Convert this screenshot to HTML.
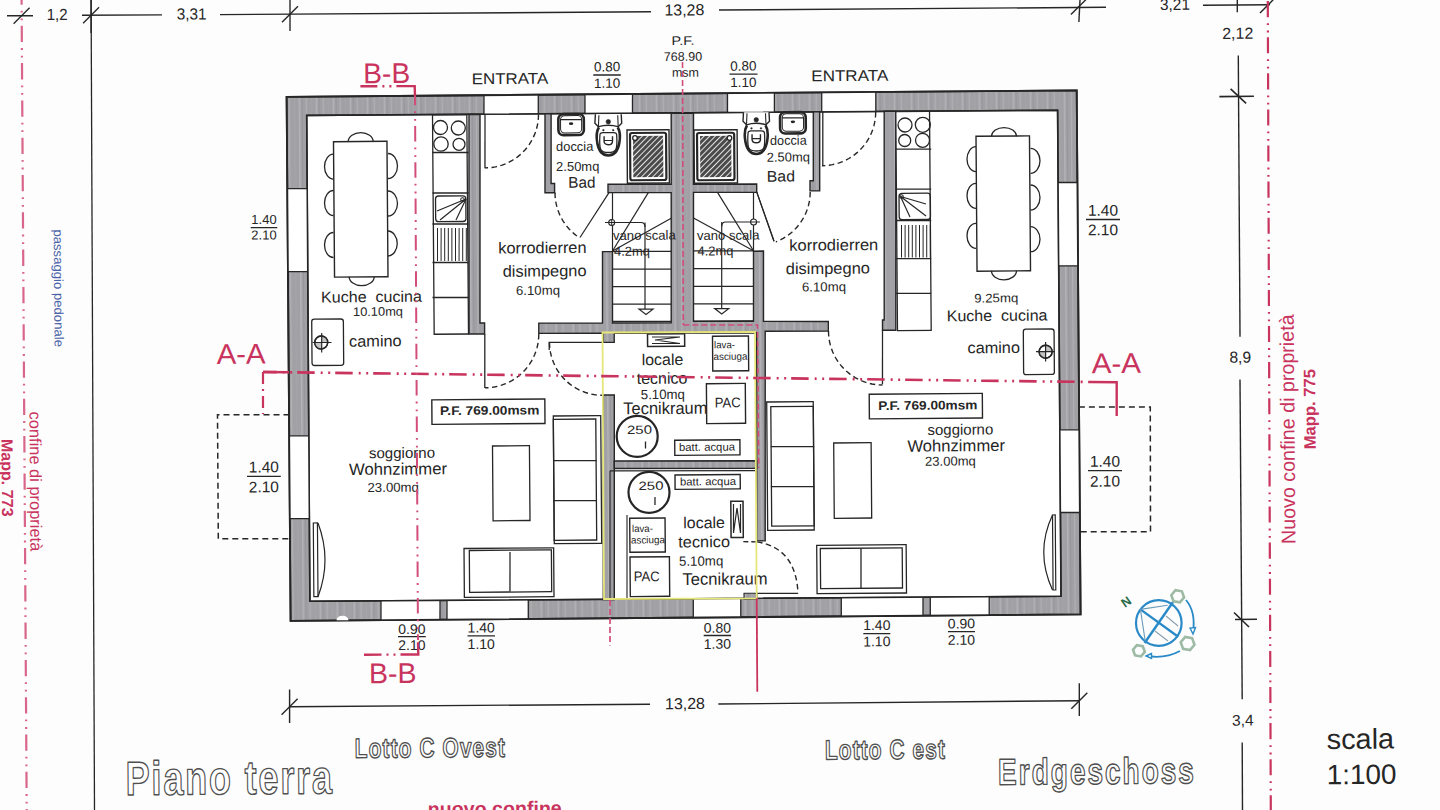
<!DOCTYPE html>
<html><head><meta charset="utf-8"><title>Piano terra</title>
<style>
html,body{margin:0;padding:0;background:#fdfdfd;}
body{width:1440px;height:810px;overflow:hidden;}
svg{display:block;font-family:"Liberation Sans",sans-serif;}
</style></head><body>
<svg width="1440" height="810" viewBox="0 0 1440 810">
<defs>
<pattern id="wall" patternUnits="userSpaceOnUse" width="17" height="60">
<rect width="17" height="60" fill="#a0a0a5"/>
<rect x="2" width="1.2" height="60" fill="#b0b0b5"/>
<rect x="7.5" width="0.8" height="60" fill="#a6a6ab"/>
<rect x="12" width="1.5" height="60" fill="#b3b3b8"/>
<rect x="15" width="0.7" height="60" fill="#929298"/>
</pattern>
<pattern id="hatch" patternUnits="userSpaceOnUse" width="4" height="4" patternTransform="rotate(45)">
<rect width="4" height="4" fill="#e4e4e4"/>
<rect width="3.0" height="4" fill="#4a4a4a"/>
</pattern>
</defs>
<rect width="1440" height="810" fill="#fdfdfd"/>
<g transform="rotate(-0.44 720.0 405.0)">
<polygon points="288.98,93.48 1079.11,93.15 1078.98,617.16 288.95,617.6" fill="url(#wall)" stroke="#262626" stroke-width="1.8" />
<polygon points="308.94,112.23 1059.85,112.8 1059.52,598.91 308.4,598.14" fill="#ffffff" stroke="#262626" stroke-width="1.6" />
<polygon points="486.39,93.4 540.69,93.37 540.54,112.41 486.24,112.37" fill="#ffffff" stroke="none" stroke-width="0" />
<line x1="486.39" y1="93.4" x2="486.24" y2="112.37" stroke="#262626" stroke-width="1.3" />
<line x1="540.69" y1="93.37" x2="540.54" y2="112.41" stroke="#262626" stroke-width="1.3" />
<polygon points="587.39,93.36 634.89,93.34 634.74,112.48 587.24,112.44" fill="#ffffff" stroke="none" stroke-width="0" />
<line x1="587.39" y1="93.36" x2="587.24" y2="112.44" stroke="#262626" stroke-width="1.3" />
<line x1="634.89" y1="93.34" x2="634.74" y2="112.48" stroke="#262626" stroke-width="1.3" />
<polygon points="729.89,93.3 776.8,93.28 776.65,112.59 729.75,112.55" fill="#ffffff" stroke="none" stroke-width="0" />
<line x1="729.89" y1="93.3" x2="729.75" y2="112.55" stroke="#262626" stroke-width="1.3" />
<line x1="776.8" y1="93.28" x2="776.65" y2="112.59" stroke="#262626" stroke-width="1.3" />
<polygon points="824.1,93.26 878.2,93.23 878.05,112.66 823.95,112.62" fill="#ffffff" stroke="none" stroke-width="0" />
<line x1="824.1" y1="93.26" x2="823.95" y2="112.62" stroke="#262626" stroke-width="1.3" />
<line x1="878.2" y1="93.23" x2="878.05" y2="112.66" stroke="#262626" stroke-width="1.3" />
<polygon points="379.36,617.55 438.36,617.51 438.51,598.28 379.51,598.22" fill="#ffffff" stroke="none" stroke-width="0" />
<line x1="379.36" y1="617.55" x2="379.51" y2="598.22" stroke="#262626" stroke-width="1.3" />
<line x1="438.36" y1="617.51" x2="438.51" y2="598.28" stroke="#262626" stroke-width="1.3" />
<polygon points="445.36,617.51 526.66,617.47 526.81,598.37 445.51,598.29" fill="#ffffff" stroke="none" stroke-width="0" />
<line x1="445.36" y1="617.51" x2="445.51" y2="598.29" stroke="#262626" stroke-width="1.3" />
<line x1="526.66" y1="617.47" x2="526.81" y2="598.37" stroke="#262626" stroke-width="1.3" />
<polygon points="691.67,617.38 739.17,617.35 739.31,598.59 691.81,598.54" fill="#ffffff" stroke="none" stroke-width="0" />
<line x1="691.67" y1="617.38" x2="691.81" y2="598.54" stroke="#262626" stroke-width="1.3" />
<line x1="739.17" y1="617.35" x2="739.31" y2="598.59" stroke="#262626" stroke-width="1.3" />
<polygon points="839.67,617.29 921.38,617.25 921.52,598.77 839.82,598.69" fill="#ffffff" stroke="none" stroke-width="0" />
<line x1="839.67" y1="617.29" x2="839.82" y2="598.69" stroke="#262626" stroke-width="1.3" />
<line x1="921.38" y1="617.25" x2="921.52" y2="598.77" stroke="#262626" stroke-width="1.3" />
<polygon points="928.68,617.25 987.58,617.21 987.72,598.84 928.82,598.78" fill="#ffffff" stroke="none" stroke-width="0" />
<line x1="928.68" y1="617.25" x2="928.82" y2="598.78" stroke="#262626" stroke-width="1.3" />
<line x1="987.58" y1="617.21" x2="987.72" y2="598.84" stroke="#262626" stroke-width="1.3" />
<polygon points="288.98,185.38 308.86,185.54 308.77,268.54 288.97,268.39" fill="#ffffff" stroke="none" stroke-width="0" />
<line x1="288.98" y1="185.38" x2="308.86" y2="185.54" stroke="#262626" stroke-width="1.3" />
<line x1="288.97" y1="268.39" x2="308.77" y2="268.54" stroke="#262626" stroke-width="1.3" />
<polygon points="288.96,432.49 308.59,432.64 308.49,515.54 288.96,515.39" fill="#ffffff" stroke="none" stroke-width="0" />
<line x1="288.96" y1="432.49" x2="308.59" y2="432.64" stroke="#262626" stroke-width="1.3" />
<line x1="288.96" y1="515.39" x2="308.49" y2="515.54" stroke="#262626" stroke-width="1.3" />
<polygon points="1059.8,185.1 1079.08,185.25 1079.06,268.55 1059.75,268.41" fill="#ffffff" stroke="none" stroke-width="0" />
<line x1="1059.8" y1="185.1" x2="1079.08" y2="185.25" stroke="#262626" stroke-width="1.3" />
<line x1="1059.75" y1="268.41" x2="1079.06" y2="268.55" stroke="#262626" stroke-width="1.3" />
<polygon points="1059.63,432.41 1079.03,432.56 1079.01,515.26 1059.58,515.11" fill="#ffffff" stroke="none" stroke-width="0" />
<line x1="1059.63" y1="432.41" x2="1079.03" y2="432.56" stroke="#262626" stroke-width="1.3" />
<line x1="1059.58" y1="515.11" x2="1079.01" y2="515.26" stroke="#262626" stroke-width="1.3" />
<polygon points="288.98,93.48 1079.11,93.15 1078.98,617.16 288.95,617.6" fill="none" stroke="#262626" stroke-width="1.8" />
<polygon points="308.94,112.23 1059.85,112.8 1059.52,598.91 308.4,598.14" fill="none" stroke="#262626" stroke-width="1.5" />
<path d="M 334.86 617.35 A 6 4.5 0 0 1 346.86 617.34 Z" fill="#ffffff" stroke="none" stroke-width="0" />
<polygon points="471.24,112.58 482.24,112.67 480.64,321.16 485.24,321.19 485.15,332.19 469.55,332.07" fill="url(#wall)" stroke="#262626" stroke-width="1.4" />
<polygon points="547.24,112.46 553.34,112.51 552.81,182.21 556.31,182.24 556.23,191.54 546.63,191.46" fill="url(#wall)" stroke="#262626" stroke-width="1.4" />
<polygon points="609.7,183.45 672.9,183.93 673.44,112.83 695.74,112.81 695.2,184 758.4,184.29 758.33,192.69 695.13,192.2 694.14,321.1 754.14,321.56 754.68,251.46 764.68,251.34 764.14,321.64 828.94,322.33 828.87,331.83 765.77,331.55 764.16,541.14 755.66,541.18 757.25,333.08 614.75,332.39 614.68,341.49 603.68,341.5 603.75,332.41 539.36,332.01 539.43,321.71 603.13,322.2 603.68,250.7 613.68,250.78 613.13,322.18 671.83,322.43 672.83,192.23 609.63,191.75" fill="url(#wall)" stroke="#262626" stroke-width="1.4" />
<polygon points="603.38,394.1 614.38,394.19 612.81,598.68 601.81,598.6" fill="url(#wall)" stroke="#262626" stroke-width="1.4" />
<polygon points="613.87,460.19 756.27,461.08 756.21,468.58 613.82,467.69" fill="url(#wall)" stroke="#262626" stroke-width="1.4" />
<line x1="609.5" y1="469.95" x2="756.2" y2="470.88" stroke="#262626" stroke-width="1.2" />
<line x1="609.5" y1="469.95" x2="608.51" y2="598.15" stroke="#262626" stroke-width="1.1" />
<line x1="626.16" y1="514.28" x2="625.52" y2="597.28" stroke="#262626" stroke-width="1.1" />
<polygon points="815.55,112.53 821.95,112.57 821.34,191.67 811.64,191.6 811.72,181.5 815.02,181.52" fill="url(#wall)" stroke="#262626" stroke-width="1.4" />
<polygon points="886.45,112.57 898.05,112.66 896.37,331.65 883.07,331.55 883.15,321.25 884.85,321.26" fill="url(#wall)" stroke="#262626" stroke-width="1.4" />
<rect x="742.55" y="593.48" width="12.96" height="5.8" fill="url(#wall)" stroke="#262626" stroke-width="1.1" />
<line x1="614.13" y1="191.78" x2="613.68" y2="250.78" stroke="#262626" stroke-width="1.2" />
<line x1="613.68" y1="250.48" x2="672.38" y2="250.93" stroke="#262626" stroke-width="1.3" />
<line x1="613.55" y1="268.38" x2="672.24" y2="268.83" stroke="#262626" stroke-width="1.3" />
<line x1="613.41" y1="285.88" x2="672.11" y2="286.33" stroke="#262626" stroke-width="1.3" />
<line x1="613.28" y1="303.38" x2="671.98" y2="303.83" stroke="#262626" stroke-width="1.3" />
<line x1="613.14" y1="320.68" x2="671.84" y2="320.93" stroke="#262626" stroke-width="1.3" />
<line x1="646.4" y1="221.93" x2="645.74" y2="308.43" stroke="#262626" stroke-width="1.2" />
<path d="M 606.4 221.62 L 642.4 221.9 Q 646.4 221.93 646.37 226.43" fill="none" stroke="#262626" stroke-width="1.2" />
<circle cx="613.1" cy="221.67" r="3" fill="#fff" stroke="#262626" stroke-width="1.1" />
<line x1="609.9" y1="221.65" x2="615.9" y2="221.7" stroke="#262626" stroke-width="1" />
<line x1="613.13" y1="218.67" x2="613.08" y2="224.67" stroke="#262626" stroke-width="1" />
<polygon points="639.74,308.58 653.74,308.69 646.7,313.93" fill="#fff" stroke="#262626" stroke-width="1.2" />
<line x1="613.69" y1="250.18" x2="649.93" y2="192.06" stroke="#262626" stroke-width="1.2" />
<line x1="613.69" y1="250.18" x2="672.64" y2="217.93" stroke="#262626" stroke-width="1.2" />
<line x1="581.29" y1="236.43" x2="610.63" y2="191.75" stroke="#262626" stroke-width="1.2" />
<line x1="755.13" y1="192.66" x2="754.68" y2="251.46" stroke="#262626" stroke-width="1.2" />
<line x1="694.68" y1="250.6" x2="754.68" y2="251.06" stroke="#262626" stroke-width="1.3" />
<line x1="694.55" y1="268.4" x2="754.55" y2="268.86" stroke="#262626" stroke-width="1.3" />
<line x1="694.41" y1="286.1" x2="754.41" y2="286.56" stroke="#262626" stroke-width="1.3" />
<line x1="694.28" y1="303.6" x2="754.28" y2="304.06" stroke="#262626" stroke-width="1.3" />
<line x1="694.14" y1="321.1" x2="754.14" y2="321.26" stroke="#262626" stroke-width="1.3" />
<line x1="723.11" y1="222.02" x2="722.44" y2="309.02" stroke="#262626" stroke-width="1.2" />
<path d="M 761.4 222.31 L 727.11 222.05 Q 723.11 222.02 723.07 226.52" fill="none" stroke="#262626" stroke-width="1.2" />
<circle cx="755" cy="222.26" r="3" fill="#fff" stroke="#262626" stroke-width="1.1" />
<line x1="751.9" y1="222.24" x2="757.9" y2="222.29" stroke="#262626" stroke-width="1" />
<polygon points="715.44,308.56 729.44,308.67 722.4,314.02" fill="#fff" stroke="#262626" stroke-width="1.2" />
<line x1="754.68" y1="251.06" x2="719.13" y2="192.39" stroke="#262626" stroke-width="1.2" />
<line x1="754.68" y1="251.06" x2="694.94" y2="217.8" stroke="#262626" stroke-width="1.2" />
<line x1="775.26" y1="241.72" x2="758.34" y2="192.19" stroke="#262626" stroke-width="1.2" />
<line x1="775.26" y1="241.72" x2="758.34" y2="192.19" stroke="#262626" stroke-width="1.2" />
<polyline points="540.74,113.01 540.6,116.51 540.23,119.99 539.63,123.44 538.81,126.85 537.77,130.19 536.51,133.46 535.04,136.63 533.36,139.71 531.49,142.67 529.43,145.5 527.19,148.19 524.78,150.72 522.2,153.1 519.48,155.3 516.62,157.31 513.63,159.14 510.53,160.77 507.33,162.19 504.05,163.4 500.69,164.39 497.27,165.15 493.81,165.7 490.33,166.01 486.83,166.1" fill="none" stroke="#262626" stroke-width="1.4" stroke-dasharray="5.5 3.5"/>
<line x1="487.24" y1="112.8" x2="486.82" y2="166.5" stroke="#262626" stroke-width="1.3" />
<polyline points="556.64,191.34 556.67,193.58 556.79,195.81 557,198.04 557.31,200.26 557.71,202.46 558.2,204.64 558.77,206.81 559.44,208.94 560.2,211.05 561.04,213.12 561.97,215.16 562.98,217.16 564.08,219.11 565.25,221.01 566.5,222.87 567.83,224.67 569.23,226.42 570.7,228.1 572.24,229.73 573.85,231.29 575.52,232.78 577.25,234.2 579.04,235.54 580.88,236.81" fill="none" stroke="#262626" stroke-width="1.4" stroke-dasharray="5.5 3.5"/>
<polyline points="539.35,332.61 539.21,336.13 538.84,339.63 538.24,343.1 537.41,346.52 536.36,349.88 535.1,353.17 533.62,356.36 531.94,359.45 530.05,362.43 527.98,365.28 525.73,367.98 523.3,370.53 520.71,372.92 517.97,375.13 515.1,377.16 512.09,378.99 508.98,380.63 505.76,382.06 502.45,383.27 499.08,384.27 495.64,385.04 492.16,385.59 488.66,385.91 485.14,386" fill="none" stroke="#262626" stroke-width="1.4" stroke-dasharray="5.5 3.5"/>
<line x1="485.35" y1="332.2" x2="484.94" y2="386.19" stroke="#262626" stroke-width="1.3" />
<polyline points="549.99,340.99 550.07,344.46 550.39,347.91 550.93,351.34 551.69,354.72 552.67,358.05 553.87,361.31 555.27,364.48 556.88,367.55 558.69,370.51 560.69,373.34 562.87,376.04 565.22,378.59 567.73,380.98 570.4,383.2 573.2,385.24 576.13,387.09 579.18,388.75 582.33,390.21 585.56,391.45 588.87,392.49 592.25,393.3 595.66,393.89 599.11,394.26 602.58,394.4" fill="none" stroke="#262626" stroke-width="1.4" stroke-dasharray="5.5 3.5"/>
<polyline points="549.63,348.69 549.69,340.99 603.68,341.4" fill="none" stroke="#262626" stroke-width="1.3" />
<polyline points="811.83,192.6 811.75,195.28 811.52,197.96 811.17,200.62 810.68,203.26 810.06,205.87 809.31,208.44 808.43,210.98 807.42,213.47 806.29,215.9 805.04,218.28 803.67,220.59 802.19,222.83 800.6,224.99 798.9,227.07 797.1,229.06 795.2,230.96 793.21,232.76 791.13,234.46 788.97,236.05 786.73,237.53 784.42,238.9 782.05,240.15 779.61,241.28 777.12,242.28" fill="none" stroke="#262626" stroke-width="1.4" stroke-dasharray="5.5 3.5"/>
<polyline points="877.95,113.2 877.8,116.72 877.43,120.21 876.83,123.67 876.01,127.09 874.96,130.44 873.7,133.72 872.23,136.91 870.55,140 868.67,142.97 866.6,145.81 864.35,148.51 861.93,151.05 859.34,153.44 856.61,155.64 853.74,157.67 850.74,159.5 847.63,161.13 844.42,162.56 841.12,163.77 837.75,164.77 834.32,165.54 830.85,166.08 827.35,166.4 823.83,166.49" fill="none" stroke="#262626" stroke-width="1.4" stroke-dasharray="5.5 3.5"/>
<line x1="825.05" y1="112.6" x2="824.64" y2="166.3" stroke="#262626" stroke-width="1.3" />
<polyline points="829.07,331.84 829.15,335.37 829.47,338.89 830.02,342.38 830.8,345.83 831.8,349.21 833.02,352.53 834.45,355.76 836.09,358.89 837.94,361.91 839.97,364.79 842.19,367.54 844.59,370.14 847.15,372.57 849.86,374.84 852.72,376.92 855.71,378.81 858.81,380.5 862.02,381.98 865.31,383.25 868.69,384.3 872.12,385.13 875.6,385.73 879.12,386.11 882.65,386.25" fill="none" stroke="#262626" stroke-width="1.4" stroke-dasharray="5.5 3.5"/>
<line x1="883.07" y1="331.75" x2="882.65" y2="385.45" stroke="#262626" stroke-width="1.3" />
<path d="M 755.95 542.18 Q 794.9 548.58 796.55 593.89" fill="none" stroke="#262626" stroke-width="1.4" stroke-dasharray="5.5 3.5"/>
<line x1="742.25" y1="541.87" x2="755.95" y2="542.08" stroke="#262626" stroke-width="1.3" stroke-dasharray="5 3"/>
<line x1="755.55" y1="593.58" x2="796.55" y2="593.89" stroke="#262626" stroke-width="1.3" />
<rect x="312.41" y="519.87" width="4.13" height="73.73" fill="#fff" stroke="#262626" stroke-width="1.2" />
<path d="M 317.11 519.91 Q 330.82 557.02 316.54 593.61" fill="none" stroke="#262626" stroke-width="1.2" />
<rect x="1051.65" y="517.55" width="2.72" height="75.02" fill="#fff" stroke="#262626" stroke-width="1.2" />
<path d="M 1051.65 517.55 Q 1033.86 554.41 1051.07 592.55" fill="none" stroke="#262626" stroke-width="1.2" />
<rect x="434.74" y="112.8" width="34.32" height="219.27" fill="#fff" stroke="#262626" stroke-width="1.3" />
<line x1="434.45" y1="150.3" x2="470.45" y2="150.58" stroke="#262626" stroke-width="1.3" />
<line x1="434.14" y1="190.8" x2="470.14" y2="191.07" stroke="#262626" stroke-width="1.3" />
<line x1="433.9" y1="221.8" x2="469.9" y2="222.07" stroke="#262626" stroke-width="1.3" />
<line x1="433.6" y1="260.3" x2="469.6" y2="260.57" stroke="#262626" stroke-width="1.3" />
<line x1="433.33" y1="295.3" x2="469.33" y2="295.57" stroke="#262626" stroke-width="1.3" />
<circle cx="442.64" cy="125.36" r="7" fill="none" stroke="#262626" stroke-width="1.3" />
<circle cx="460.43" cy="126" r="7" fill="none" stroke="#262626" stroke-width="1.3" />
<circle cx="443.01" cy="141.87" r="7.2" fill="none" stroke="#262626" stroke-width="1.3" />
<circle cx="461.01" cy="142.3" r="6" fill="none" stroke="#262626" stroke-width="1.3" />
<rect x="437.11" y="193.82" width="30.3" height="25.73" fill="none" stroke="#262626" stroke-width="1.3" rx="3"/>
<line x1="438.5" y1="208.83" x2="467.59" y2="197.06" stroke="#262626" stroke-width="1.2" />
<line x1="441.43" y1="217.86" x2="467.59" y2="197.06" stroke="#262626" stroke-width="1.2" />
<line x1="457.43" y1="217.98" x2="467.59" y2="197.06" stroke="#262626" stroke-width="1.2" />
<circle cx="464.09" cy="197.53" r="1.8" fill="none" stroke="#262626" stroke-width="1" />
<line x1="438.87" y1="225.84" x2="438.61" y2="258.83" stroke="#262626" stroke-width="1.0" />
<line x1="442.47" y1="225.86" x2="442.21" y2="258.86" stroke="#262626" stroke-width="1.0" />
<line x1="446.07" y1="225.89" x2="445.81" y2="258.89" stroke="#262626" stroke-width="1.0" />
<line x1="449.67" y1="225.92" x2="449.41" y2="258.92" stroke="#262626" stroke-width="1.0" />
<line x1="453.27" y1="225.95" x2="453.01" y2="258.95" stroke="#262626" stroke-width="1.0" />
<line x1="456.87" y1="225.97" x2="456.61" y2="258.97" stroke="#262626" stroke-width="1.0" />
<line x1="460.47" y1="226" x2="460.21" y2="259" stroke="#262626" stroke-width="1.0" />
<line x1="464.07" y1="226.03" x2="463.81" y2="259.03" stroke="#262626" stroke-width="1.0" />
<line x1="467.67" y1="226.06" x2="467.41" y2="259.06" stroke="#262626" stroke-width="1.0" />
<rect x="335.53" y="138.74" width="53.46" height="135.41" fill="#fff" stroke="#262626" stroke-width="1.4" />
<path d="M 335.44 151.24 A 9 12.5 0 0 0 335.25 176.24" fill="none" stroke="#262626" stroke-width="1.3" />
<path d="M 335.16 187.54 A 9 12.5 0 0 0 334.97 212.54" fill="none" stroke="#262626" stroke-width="1.3" />
<path d="M 334.84 229.54 A 9 12.5 0 0 0 334.64 254.54" fill="none" stroke="#262626" stroke-width="1.3" />
<path d="M 389.94 150.96 A 9.5 12.5 0 0 1 389.75 175.96" fill="none" stroke="#262626" stroke-width="1.3" />
<path d="M 389.65 188.46 A 9.5 12.5 0 0 1 389.46 213.46" fill="none" stroke="#262626" stroke-width="1.3" />
<path d="M 389.35 228.46 A 9.5 12.5 0 0 1 389.15 253.45" fill="none" stroke="#262626" stroke-width="1.3" />
<path d="M 350.23 138.85 A 12.5 9 0 0 1 375.23 139.04" fill="none" stroke="#262626" stroke-width="1.3" />
<path d="M 350.2 273.86 A 12.5 9 0 0 0 375.2 274.05" fill="none" stroke="#262626" stroke-width="1.3" />
<rect x="312.37" y="316.07" width="31.65" height="46.34" fill="#fff" stroke="#262626" stroke-width="1.3" rx="2.5"/>
<circle cx="321.69" cy="339.44" r="6.5" fill="#fff" stroke="#262626" stroke-width="1.4" />
<path d="M 321.69 339.44 L 321.74 332.94 A 6.5 6.5 0 0 1 328.19 339.49 Z" fill="#c4c4c4" stroke="none" stroke-width="0" />
<path d="M 321.69 339.44 L 321.64 345.94 A 6.5 6.5 0 0 1 315.19 339.39 Z" fill="#c4c4c4" stroke="none" stroke-width="0" />
<circle cx="321.69" cy="339.44" r="6.5" fill="none" stroke="#262626" stroke-width="1.4" />
<line x1="312.99" y1="339.37" x2="331.99" y2="339.52" stroke="#262626" stroke-width="1.2" />
<line x1="322.26" y1="329.94" x2="322.11" y2="349.44" stroke="#262626" stroke-width="1.2" />
<rect x="898.05" y="112.86" width="33.72" height="219.07" fill="#fff" stroke="#262626" stroke-width="1.3" />
<line x1="897.76" y1="150.56" x2="933.16" y2="150.83" stroke="#262626" stroke-width="1.3" />
<line x1="897.45" y1="190.56" x2="932.85" y2="190.83" stroke="#262626" stroke-width="1.3" />
<line x1="897.21" y1="221.86" x2="932.61" y2="222.13" stroke="#262626" stroke-width="1.3" />
<line x1="896.92" y1="260.05" x2="932.32" y2="260.33" stroke="#262626" stroke-width="1.3" />
<line x1="896.65" y1="294.65" x2="932.05" y2="294.93" stroke="#262626" stroke-width="1.3" />
<circle cx="907.14" cy="126.43" r="7" fill="none" stroke="#262626" stroke-width="1.3" />
<circle cx="924.95" cy="126.37" r="7.5" fill="none" stroke="#262626" stroke-width="1.3" />
<circle cx="906.73" cy="141.93" r="6" fill="none" stroke="#262626" stroke-width="1.3" />
<circle cx="924.53" cy="141.86" r="7" fill="none" stroke="#262626" stroke-width="1.3" />
<rect x="900.62" y="194.68" width="31.3" height="26.44" fill="none" stroke="#262626" stroke-width="1.3" rx="3"/>
<line x1="902.1" y1="197.89" x2="927.54" y2="205.59" stroke="#262626" stroke-width="1.2" />
<line x1="902.1" y1="197.89" x2="927.45" y2="217.59" stroke="#262626" stroke-width="1.2" />
<line x1="902.1" y1="197.89" x2="911.44" y2="218.46" stroke="#262626" stroke-width="1.2" />
<circle cx="903.1" cy="197.9" r="1.8" fill="none" stroke="#262626" stroke-width="1" />
<line x1="902.88" y1="226.4" x2="902.63" y2="258.9" stroke="#262626" stroke-width="1.0" />
<line x1="906.48" y1="226.43" x2="906.23" y2="258.93" stroke="#262626" stroke-width="1.0" />
<line x1="910.08" y1="226.45" x2="909.83" y2="258.95" stroke="#262626" stroke-width="1.0" />
<line x1="913.68" y1="226.48" x2="913.43" y2="258.98" stroke="#262626" stroke-width="1.0" />
<line x1="917.28" y1="226.51" x2="917.03" y2="259.01" stroke="#262626" stroke-width="1.0" />
<line x1="920.88" y1="226.54" x2="920.63" y2="259.04" stroke="#262626" stroke-width="1.0" />
<line x1="924.48" y1="226.56" x2="924.23" y2="259.06" stroke="#262626" stroke-width="1.0" />
<line x1="928.08" y1="226.59" x2="927.83" y2="259.09" stroke="#262626" stroke-width="1.0" />
<line x1="931.68" y1="226.62" x2="931.43" y2="259.12" stroke="#262626" stroke-width="1.0" />
<rect x="978.06" y="138.27" width="53.47" height="134.91" fill="#fff" stroke="#262626" stroke-width="1.4" />
<path d="M 977.98 148.67 A 9 12.5 0 0 0 977.78 173.67" fill="none" stroke="#262626" stroke-width="1.3" />
<path d="M 977.69 185.27 A 9 12.5 0 0 0 977.5 210.27" fill="none" stroke="#262626" stroke-width="1.3" />
<path d="M 977.39 225.27 A 9 12.5 0 0 0 977.2 250.27" fill="none" stroke="#262626" stroke-width="1.3" />
<path d="M 1032.46 150.69 A 9.5 12.5 0 0 1 1032.27 175.69" fill="none" stroke="#262626" stroke-width="1.3" />
<path d="M 1032.18 187.39 A 9.5 12.5 0 0 1 1031.99 212.39" fill="none" stroke="#262626" stroke-width="1.3" />
<path d="M 1031.86 229.09 A 9.5 12.5 0 0 1 1031.67 254.09" fill="none" stroke="#262626" stroke-width="1.3" />
<path d="M 993.56 138.39 A 12.5 9 0 0 1 1018.55 138.58" fill="none" stroke="#262626" stroke-width="1.3" />
<path d="M 992.52 272.89 A 12.5 9 0 0 0 1017.52 273.08" fill="none" stroke="#262626" stroke-width="1.3" />
<rect x="1023.87" y="331.53" width="30.75" height="45.44" fill="#fff" stroke="#262626" stroke-width="1.3" rx="2.5"/>
<circle cx="1046" cy="354.2" r="6.5" fill="#fff" stroke="#262626" stroke-width="1.4" />
<path d="M 1046 354.2 L 1046.05 347.7 A 6.5 6.5 0 0 1 1052.5 354.25 Z" fill="#c4c4c4" stroke="none" stroke-width="0" />
<path d="M 1046 354.2 L 1045.95 360.7 A 6.5 6.5 0 0 1 1039.5 354.15 Z" fill="#c4c4c4" stroke="none" stroke-width="0" />
<circle cx="1046" cy="354.2" r="6.5" fill="none" stroke="#262626" stroke-width="1.4" />
<line x1="1036.4" y1="354.13" x2="1055.4" y2="354.27" stroke="#262626" stroke-width="1.2" />
<line x1="1046.07" y1="344.5" x2="1045.92" y2="364" stroke="#262626" stroke-width="1.2" />
<rect x="560.54" y="112.97" width="25.44" height="21" fill="#fff" stroke="#262626" stroke-width="2.6" rx="5"/>
<rect x="562.73" y="114.48" width="21.07" height="17.26" fill="none" stroke="#262626" stroke-width="1.0" rx="4"/>
<line x1="562.5" y1="118.48" x2="584.09" y2="118.65" stroke="#262626" stroke-width="1.2" />
<ellipse cx="573.26" cy="122.56" rx="2.2" ry="1.4" fill="#262626"/>
<path d="M 597.64 113.25 L 597.07 122.25 L 600.54 125.77 Q 610.46 122.85 620.34 125.93 L 623.87 122.45 L 623.44 113.45" fill="#fff" stroke="#262626" stroke-width="1.4" />
<line x1="600.54" y1="125.77" x2="601.13" y2="114.28" stroke="#262626" stroke-width="1.1" />
<line x1="620.34" y1="125.93" x2="619.93" y2="114.42" stroke="#262626" stroke-width="1.1" />
<circle cx="610.48" cy="120.85" r="2.3" fill="#262626" stroke="#262626" stroke-width="0.5" />
<path d="M 601.04 126.28 C 597.29 132.25 597.32 154.05 610.22 154.65 C 623.12 154.25 623.49 132.45 619.84 126.42" fill="#fff" stroke="#262626" stroke-width="2.6" />
<path d="M 601.98 134.29 Q 601.99 131.79 604.99 131.81 L 615.79 131.89 Q 618.79 131.91 618.77 134.41 C 619.66 149.72 618.14 151.71 610.24 151.65 C 602.34 151.59 600.86 149.58 601.98 134.29 Z" fill="none" stroke="#262626" stroke-width="1.3" />
<path d="M 606.17 135.32 L 606.13 140.32 Q 606.1 143.82 610.3 143.85 Q 614.5 143.88 614.53 140.38 L 614.57 135.38" fill="none" stroke="#262626" stroke-width="1.4" />
<line x1="606.13" y1="139.62" x2="614.53" y2="139.68" stroke="#262626" stroke-width="1.2" />
<circle cx="605.51" cy="129.31" r="0.9" fill="#262626" stroke="#262626" stroke-width="0.3" />
<circle cx="615.31" cy="129.39" r="0.9" fill="#262626" stroke="#262626" stroke-width="0.3" />
<rect x="782.25" y="112.77" width="25.64" height="21.2" fill="#fff" stroke="#262626" stroke-width="2.6" rx="5"/>
<rect x="784.43" y="114.29" width="21.27" height="17.46" fill="none" stroke="#262626" stroke-width="1.0" rx="4"/>
<line x1="784.2" y1="118.28" x2="806" y2="118.45" stroke="#262626" stroke-width="1.2" />
<ellipse cx="795.07" cy="122.37" rx="2.2" ry="1.4" fill="#262626"/>
<path d="M 745.75 112.49 L 745.18 121.48 L 748.65 125.01 Q 758.42 122.09 768.15 125.16 L 771.68 121.69 L 771.25 112.68" fill="#fff" stroke="#262626" stroke-width="1.4" />
<line x1="748.65" y1="125.01" x2="749.24" y2="113.52" stroke="#262626" stroke-width="1.1" />
<line x1="768.15" y1="125.16" x2="767.74" y2="113.66" stroke="#262626" stroke-width="1.1" />
<circle cx="758.44" cy="120.09" r="2.3" fill="#262626" stroke="#262626" stroke-width="0.5" />
<path d="M 749.15 125.52 C 745.4 131.49 745.43 153.69 758.18 154.29 C 770.93 153.88 771.3 131.69 767.65 125.66" fill="#fff" stroke="#262626" stroke-width="2.6" />
<path d="M 750.09 133.52 Q 750.1 131.02 753.1 131.05 L 763.6 131.13 Q 766.6 131.15 766.59 133.65 C 767.46 149.36 765.95 151.35 758.2 151.29 C 750.45 151.23 748.97 149.21 750.09 133.52 Z" fill="none" stroke="#262626" stroke-width="1.3" />
<path d="M 754.13 134.55 L 754.09 139.55 Q 754.06 143.05 758.26 143.09 Q 762.46 143.12 762.49 139.62 L 762.53 134.62" fill="none" stroke="#262626" stroke-width="1.4" />
<line x1="754.09" y1="138.85" x2="762.49" y2="138.92" stroke="#262626" stroke-width="1.2" />
<circle cx="753.62" cy="128.55" r="0.9" fill="#262626" stroke="#262626" stroke-width="0.3" />
<circle cx="763.12" cy="128.62" r="0.9" fill="#262626" stroke="#262626" stroke-width="0.3" />
<rect x="629.11" y="129.29" width="41.99" height="53.32" fill="#fff" stroke="#262626" stroke-width="1.4" />
<rect x="632.09" y="132.32" width="36.04" height="47.28" fill="none" stroke="#262626" stroke-width="2.2" rx="2"/>
<rect x="635.07" y="135.34" width="30.08" height="41.23" fill="url(#hatch)" stroke="none" stroke-width="0" />
<circle cx="637.05" cy="137.36" r="2.3" fill="#fff" stroke="#262626" stroke-width="1.3" />
<rect x="696.11" y="129.81" width="43.09" height="53.33" fill="#fff" stroke="#262626" stroke-width="1.4" />
<rect x="699.09" y="132.83" width="37.14" height="47.29" fill="none" stroke="#262626" stroke-width="2.2" rx="2"/>
<rect x="702.07" y="135.85" width="31.18" height="41.24" fill="url(#hatch)" stroke="none" stroke-width="0" />
<circle cx="731.55" cy="138.08" r="2.3" fill="#fff" stroke="#262626" stroke-width="1.3" />
<rect x="648.05" y="333.45" width="37.1" height="12.59" fill="#fff" stroke="#262626" stroke-width="1.5" />
<path d="M 652.52 336.48 L 680.52 336.69 L 655.5 339.5 L 680.47 343.19 L 652.47 342.98" fill="none" stroke="#262626" stroke-width="1.2" />
<rect x="713.03" y="336.24" width="35.93" height="34.78" fill="#fff" stroke="#262626" stroke-width="1.4" />
<text x="714.44" y="348.26" font-size="10" fill="#262626" font-weight="normal" text-anchor="start" textLength="21" lengthAdjust="spacingAndGlyphs"  >lava-</text>
<text x="713.85" y="359.95" font-size="10" fill="#262626" font-weight="normal" text-anchor="start" textLength="34" lengthAdjust="spacingAndGlyphs"  >asciuga</text>
<text x="642.01" y="364.6" font-size="16" fill="#262626" font-weight="normal" text-anchor="start" textLength="41.6" lengthAdjust="spacingAndGlyphs"  >locale</text>
<text x="636.86" y="383.36" font-size="16" fill="#262626" font-weight="normal" text-anchor="start" textLength="50.8" lengthAdjust="spacingAndGlyphs"  >tecnico</text>
<text x="640.85" y="398.59" font-size="13.5" fill="#262626" font-weight="normal" text-anchor="start" textLength="44.2" lengthAdjust="spacingAndGlyphs"  >5.10mq</text>
<text x="623.23" y="413.56" font-size="17" fill="#262626" font-weight="normal" text-anchor="start" textLength="84.2" lengthAdjust="spacingAndGlyphs"  >Tecnikraum</text>
<rect x="706.56" y="383.6" width="38.89" height="39.9" fill="#fff" stroke="#262626" stroke-width="1.4" />
<text x="714.68" y="407.46" font-size="14" fill="#262626" font-weight="normal" text-anchor="start" textLength="26" lengthAdjust="spacingAndGlyphs"  >PAC</text>
<circle cx="636.96" cy="435.76" r="20.5" fill="none" stroke="#262626" stroke-width="2.2" />
<text x="626.78" y="433.28" font-size="12" fill="#262626" font-weight="normal" text-anchor="start" textLength="25" lengthAdjust="spacingAndGlyphs"  >250</text>
<line x1="645.22" y1="440.93" x2="645.17" y2="447.93" stroke="#262626" stroke-width="1.3" />
<rect x="674.43" y="439.95" width="65.19" height="15.1" fill="#fff" stroke="#262626" stroke-width="1.4" />
<text x="678.65" y="450.68" font-size="11" fill="#262626" font-weight="normal" text-anchor="start" textLength="56" lengthAdjust="spacingAndGlyphs"  >batt. acqua</text>
<circle cx="648.33" cy="491.85" r="20.5" fill="none" stroke="#262626" stroke-width="2.2" />
<text x="637.85" y="489.37" font-size="12" fill="#262626" font-weight="normal" text-anchor="start" textLength="25" lengthAdjust="spacingAndGlyphs"  >250</text>
<line x1="654.3" y1="496.5" x2="654.23" y2="504.5" stroke="#262626" stroke-width="1.3" />
<rect x="674.46" y="474.65" width="65.19" height="14.4" fill="#fff" stroke="#262626" stroke-width="1.4" />
<text x="679.38" y="485.19" font-size="11" fill="#262626" font-weight="normal" text-anchor="start" textLength="56" lengthAdjust="spacingAndGlyphs"  >batt. acqua</text>
<rect x="628.83" y="517.6" width="35.34" height="33.97" fill="#fff" stroke="#262626" stroke-width="1.4" />
<text x="631.03" y="531.32" font-size="10" fill="#262626" font-weight="normal" text-anchor="start" textLength="21" lengthAdjust="spacingAndGlyphs"  >lava-</text>
<text x="629.94" y="542.81" font-size="10" fill="#262626" font-weight="normal" text-anchor="start" textLength="34" lengthAdjust="spacingAndGlyphs"  >asciuga</text>
<rect x="628.84" y="556.3" width="39.4" height="39.6" fill="#fff" stroke="#262626" stroke-width="1.4" />
<text x="632.35" y="580.63" font-size="14" fill="#262626" font-weight="normal" text-anchor="start" textLength="26" lengthAdjust="spacingAndGlyphs"  >PAC</text>
<rect x="730.06" y="501.38" width="12.22" height="36.29" fill="#fff" stroke="#262626" stroke-width="1.5" />
<path d="M 732.74 504.1 L 732.52 533.1 L 736.21 508.13 L 739.52 533.15 L 739.74 504.15" fill="none" stroke="#262626" stroke-width="1.2" />
<text x="682.35" y="528.01" font-size="16" fill="#262626" font-weight="normal" text-anchor="start" textLength="41.7" lengthAdjust="spacingAndGlyphs"  >locale</text>
<text x="677.21" y="547.18" font-size="16" fill="#262626" font-weight="normal" text-anchor="start" textLength="51.7" lengthAdjust="spacingAndGlyphs"  >tecnico</text>
<text x="677.77" y="565.48" font-size="13.5" fill="#262626" font-weight="normal" text-anchor="start" textLength="44.3" lengthAdjust="spacingAndGlyphs"  >5.10mq</text>
<text x="681.12" y="584.71" font-size="17" fill="#262626" font-weight="normal" text-anchor="start" textLength="85" lengthAdjust="spacingAndGlyphs"  >Tecnikraum</text>
<rect x="553.22" y="414.72" width="47.42" height="127.67" fill="#fff" stroke="#262626" stroke-width="1.3" />
<rect x="553.2" y="418.02" width="42.47" height="121.03" fill="none" stroke="#262626" stroke-width="1.3" />
<line x1="552.88" y1="459.42" x2="596.28" y2="459.75" stroke="#262626" stroke-width="1.3" />
<line x1="552.57" y1="499.42" x2="595.97" y2="499.75" stroke="#262626" stroke-width="1.3" />
<rect x="492.19" y="444.25" width="36.93" height="74.79" fill="#fff" stroke="#262626" stroke-width="1.3" />
<rect x="462.91" y="546.53" width="89.63" height="48.89" fill="#fff" stroke="#262626" stroke-width="1.3" />
<rect x="468.19" y="548.57" width="82.08" height="41.83" fill="none" stroke="#262626" stroke-width="1.3" />
<line x1="508.88" y1="550.38" x2="508.57" y2="590.08" stroke="#262626" stroke-width="1.3" />
<rect x="431.85" y="397.69" width="113.02" height="24.47" fill="#fff" stroke="#262626" stroke-width="1.4" />
<text x="439.93" y="412.95" font-size="12.5" fill="#262626" font-weight="bold" text-anchor="start" textLength="99.4" lengthAdjust="spacingAndGlyphs"  >P.F. 769.00msm</text>
<rect x="766.72" y="402.36" width="46.52" height="128.36" fill="#fff" stroke="#262626" stroke-width="1.3" />
<rect x="770.79" y="407.09" width="42.48" height="119.43" fill="none" stroke="#262626" stroke-width="1.3" />
<line x1="770.48" y1="447.09" x2="813.88" y2="447.42" stroke="#262626" stroke-width="1.3" />
<line x1="770.17" y1="487.09" x2="813.57" y2="487.42" stroke="#262626" stroke-width="1.3" />
<rect x="833.4" y="443.87" width="37.42" height="75.29" fill="#fff" stroke="#262626" stroke-width="1.3" />
<rect x="815.62" y="546.04" width="89.43" height="48.39" fill="#fff" stroke="#262626" stroke-width="1.3" />
<rect x="819.2" y="549.27" width="81.89" height="40.13" fill="none" stroke="#262626" stroke-width="1.3" />
<line x1="859.89" y1="549.58" x2="859.59" y2="589.08" stroke="#262626" stroke-width="1.3" />
<rect x="869.28" y="395.35" width="113.11" height="24.67" fill="#fff" stroke="#262626" stroke-width="1.4" />
<text x="878.26" y="411.22" font-size="12.5" fill="#262626" font-weight="bold" text-anchor="start" textLength="99.2" lengthAdjust="spacingAndGlyphs"  >P.F. 769.00msm</text>
<text x="321.8" y="299.44" font-size="15.5" fill="#262626" font-weight="normal" text-anchor="start" textLength="101" lengthAdjust="spacingAndGlyphs"  >Kuche  cucina</text>
<text x="353.69" y="313.18" font-size="12.5" fill="#262626" font-weight="normal" text-anchor="start" textLength="50" lengthAdjust="spacingAndGlyphs"  >10.10mq</text>
<text x="349.46" y="343.85" font-size="16" fill="#262626" font-weight="normal" text-anchor="start" textLength="52.7" lengthAdjust="spacingAndGlyphs"  >camino</text>
<text x="368.6" y="455.6" font-size="15" fill="#262626" font-weight="normal" text-anchor="start" textLength="66" lengthAdjust="spacingAndGlyphs"  >soggiorno</text>
<text x="348.47" y="472.15" font-size="16.5" fill="#262626" font-weight="normal" text-anchor="start" textLength="98" lengthAdjust="spacingAndGlyphs"  >Wohnzimmer</text>
<text x="366.84" y="489.29" font-size="13" fill="#262626" font-weight="normal" text-anchor="start" textLength="51.5" lengthAdjust="spacingAndGlyphs"  >23.00mq</text>
<text x="499.47" y="251.9" font-size="16" fill="#262626" font-weight="normal" text-anchor="start" textLength="88.3" lengthAdjust="spacingAndGlyphs"  >korrodierren</text>
<text x="503.69" y="275.14" font-size="16" fill="#262626" font-weight="normal" text-anchor="start" textLength="83.9" lengthAdjust="spacingAndGlyphs"  >disimpegno</text>
<text x="516.85" y="293.44" font-size="13" fill="#262626" font-weight="normal" text-anchor="start" textLength="44" lengthAdjust="spacingAndGlyphs"  >6.10mq</text>
<text x="558.05" y="149.85" font-size="13" fill="#262626" font-weight="normal" text-anchor="start" textLength="37.2" lengthAdjust="spacingAndGlyphs"  >doccia</text>
<text x="557.9" y="169.85" font-size="13" fill="#262626" font-weight="normal" text-anchor="start" textLength="43.3" lengthAdjust="spacingAndGlyphs"  >2.50mq</text>
<text x="569.97" y="186.64" font-size="15.5" fill="#262626" font-weight="normal" text-anchor="start" textLength="27.3" lengthAdjust="spacingAndGlyphs"  >Bad</text>
<text x="614.27" y="239.18" font-size="13" fill="#262626" font-weight="normal" text-anchor="start" textLength="62.8" lengthAdjust="spacingAndGlyphs"  >vano scala</text>
<text x="615.15" y="254.99" font-size="13" fill="#262626" font-weight="normal" text-anchor="start" textLength="36" lengthAdjust="spacingAndGlyphs"  >4.2mq</text>
<text x="698.27" y="239.83" font-size="13" fill="#262626" font-weight="normal" text-anchor="start" textLength="62.5" lengthAdjust="spacingAndGlyphs"  >vano scala</text>
<text x="698.65" y="255.33" font-size="13" fill="#262626" font-weight="normal" text-anchor="start" textLength="36" lengthAdjust="spacingAndGlyphs"  >4.2mq</text>
<text x="772" y="145.39" font-size="13" fill="#262626" font-weight="normal" text-anchor="start" textLength="36.7" lengthAdjust="spacingAndGlyphs"  >doccia</text>
<text x="768.57" y="162.07" font-size="13" fill="#262626" font-weight="normal" text-anchor="start" textLength="43.3" lengthAdjust="spacingAndGlyphs"  >2.50mq</text>
<text x="768.41" y="182.07" font-size="15.5" fill="#262626" font-weight="normal" text-anchor="start" textLength="28.3" lengthAdjust="spacingAndGlyphs"  >Bad</text>
<text x="790.38" y="251.34" font-size="16" fill="#262626" font-weight="normal" text-anchor="start" textLength="89.1" lengthAdjust="spacingAndGlyphs"  >korrodierren</text>
<text x="786.8" y="274.71" font-size="16" fill="#262626" font-weight="normal" text-anchor="start" textLength="84.2" lengthAdjust="spacingAndGlyphs"  >disimpegno</text>
<text x="802.87" y="292.13" font-size="13" fill="#262626" font-weight="normal" text-anchor="start" textLength="44" lengthAdjust="spacingAndGlyphs"  >6.10mq</text>
<text x="974.98" y="304.46" font-size="12.5" fill="#262626" font-weight="normal" text-anchor="start" textLength="44.1" lengthAdjust="spacingAndGlyphs"  >9.25mq</text>
<text x="947.34" y="323.04" font-size="15.5" fill="#262626" font-weight="normal" text-anchor="start" textLength="100.8" lengthAdjust="spacingAndGlyphs"  >Kuche  cucina</text>
<text x="967.89" y="355.2" font-size="16" fill="#262626" font-weight="normal" text-anchor="start" textLength="52.5" lengthAdjust="spacingAndGlyphs"  >camino</text>
<text x="927.26" y="436.59" font-size="15" fill="#262626" font-weight="normal" text-anchor="start" textLength="65.8" lengthAdjust="spacingAndGlyphs"  >soggiorno</text>
<text x="907.14" y="453.14" font-size="16.5" fill="#262626" font-weight="normal" text-anchor="start" textLength="97.5" lengthAdjust="spacingAndGlyphs"  >Wohnzimmer</text>
<text x="924.53" y="467.37" font-size="13" fill="#262626" font-weight="normal" text-anchor="start" textLength="50.8" lengthAdjust="spacingAndGlyphs"  >23.00mq</text>
<text x="474.17" y="82.3" font-size="15.5" fill="#262626" font-weight="normal" text-anchor="start" textLength="76.6" lengthAdjust="spacingAndGlyphs"  >ENTRATA</text>
<text x="813.78" y="82.01" font-size="15.5" fill="#262626" font-weight="normal" text-anchor="start" textLength="77" lengthAdjust="spacingAndGlyphs"  >ENTRATA</text>
<line x1="595.84" y1="74.04" x2="623.34" y2="74.25" stroke="#262626" stroke-width="1.3" />
<text x="609.62" y="70.54" font-size="13.5" fill="#262626" font-weight="normal" text-anchor="middle"   >0.80</text>
<text x="609.49" y="86.94" font-size="13.5" fill="#262626" font-weight="normal" text-anchor="middle"   >1.10</text>
<line x1="732.04" y1="74.28" x2="760.04" y2="74.5" stroke="#262626" stroke-width="1.3" />
<text x="746.07" y="70.79" font-size="13.5" fill="#262626" font-weight="normal" text-anchor="middle"   >0.80</text>
<text x="745.94" y="87.19" font-size="13.5" fill="#262626" font-weight="normal" text-anchor="middle"   >1.10</text>
<line x1="246.47" y1="472.67" x2="280.27" y2="472.93" stroke="#262626" stroke-width="1.3" />
<text x="263.4" y="468.9" font-size="15.5" fill="#262626" font-weight="normal" text-anchor="middle"   >1.40</text>
<text x="263.24" y="488.79" font-size="15.5" fill="#262626" font-weight="normal" text-anchor="middle"   >2.10</text>
<line x1="252.08" y1="224.1" x2="278.67" y2="224.31" stroke="#262626" stroke-width="1.3" />
<text x="265.4" y="220.5" font-size="13" fill="#262626" font-weight="normal" text-anchor="middle"   >1.40</text>
<text x="265.28" y="236" font-size="13" fill="#262626" font-weight="normal" text-anchor="middle"   >2.10</text>
<line x1="1087.41" y1="222.32" x2="1121.41" y2="222.58" stroke="#262626" stroke-width="1.3" />
<text x="1104.44" y="218.65" font-size="15.5" fill="#262626" font-weight="normal" text-anchor="middle"   >1.40</text>
<text x="1104.29" y="238.15" font-size="15.5" fill="#262626" font-weight="normal" text-anchor="middle"   >2.10</text>
<line x1="1087.49" y1="473.42" x2="1121.48" y2="473.69" stroke="#262626" stroke-width="1.3" />
<text x="1104.51" y="469.65" font-size="15.5" fill="#262626" font-weight="normal" text-anchor="middle"   >1.40</text>
<text x="1104.36" y="489.55" font-size="15.5" fill="#262626" font-weight="normal" text-anchor="middle"   >2.10</text>
<line x1="396.23" y1="634.22" x2="424.03" y2="634.43" stroke="#262626" stroke-width="1.3" />
<text x="410.15" y="631.63" font-size="14" fill="#262626" font-weight="normal" text-anchor="middle"   >0.90</text>
<text x="410.03" y="647.63" font-size="14" fill="#262626" font-weight="normal" text-anchor="middle"   >2.10</text>
<line x1="465.74" y1="633.85" x2="493.23" y2="634.07" stroke="#262626" stroke-width="1.3" />
<text x="479.51" y="630.66" font-size="14" fill="#262626" font-weight="normal" text-anchor="middle"   >1.40</text>
<text x="479.38" y="647.16" font-size="14" fill="#262626" font-weight="normal" text-anchor="middle"   >1.10</text>
<line x1="701.93" y1="635.37" x2="729.33" y2="635.58" stroke="#262626" stroke-width="1.3" />
<text x="715.65" y="632.67" font-size="14" fill="#262626" font-weight="normal" text-anchor="middle"   >0.80</text>
<text x="715.53" y="648.77" font-size="14" fill="#262626" font-weight="normal" text-anchor="middle"   >1.30</text>
<line x1="861.54" y1="634.79" x2="888.54" y2="635" stroke="#262626" stroke-width="1.3" />
<text x="875.07" y="631.2" font-size="14" fill="#262626" font-weight="normal" text-anchor="middle"   >1.40</text>
<text x="874.94" y="647.5" font-size="14" fill="#262626" font-weight="normal" text-anchor="middle"   >1.10</text>
<line x1="946.25" y1="633.44" x2="973.25" y2="633.65" stroke="#262626" stroke-width="1.3" />
<text x="959.78" y="630.25" font-size="14" fill="#262626" font-weight="normal" text-anchor="middle"   >0.90</text>
<text x="959.65" y="646.55" font-size="14" fill="#262626" font-weight="normal" text-anchor="middle"   >2.10</text>
<text x="674.27" y="44.64" font-size="12.5" fill="#262626" font-weight="normal" text-anchor="start" textLength="23" lengthAdjust="spacingAndGlyphs"  >P.F.</text>
<text x="685.64" y="60.53" font-size="12.5" fill="#262626" font-weight="normal" text-anchor="middle"   >768.90</text>
<text x="688.02" y="76.44" font-size="12.5" fill="#262626" font-weight="normal" text-anchor="middle"   >msm</text>
<polygon points="603.06,331.6 755.56,332.07 755.21,598.58 602.51,598.1" fill="none" stroke="#e6e67a" stroke-width="1.8" />
<polyline points="289.44,411.39 217.44,410.84 217.29,534.84 289.49,535.4" fill="none" stroke="#262626" stroke-width="1.5" stroke-dasharray="6 4"/>
<polyline points="1078.87,409.66 1150.27,410.2 1149.51,535 1079.02,534.46" fill="none" stroke="#262626" stroke-width="1.5" stroke-dasharray="6 4"/>
<line x1="263.27" y1="368.49" x2="1090.17" y2="384.84" stroke="#c9345e" stroke-width="2.6" stroke-dasharray="17.5 6 2 5.5 2 5" stroke-dashoffset="3.8"/>
<line x1="263.27" y1="368.49" x2="289.26" y2="368.99" stroke="#c9345e" stroke-width="2.4" />
<line x1="263.27" y1="368.49" x2="262.94" y2="410.49" stroke="#c9345e" stroke-width="2.2" stroke-dasharray="12 5 2 5"/>
<polyline points="1090.17,384.84 1116.86,385.25 1116.6,419.15" fill="none" stroke="#c9345e" stroke-width="2.4" />
<text x="217.03" y="360.14" font-size="28.5" fill="#c9345e" font-weight="normal" text-anchor="start" textLength="49" lengthAdjust="spacingAndGlyphs"  >A-A</text>
<text x="1091.93" y="376.16" font-size="28.5" fill="#c9345e" font-weight="normal" text-anchor="start" textLength="49.4" lengthAdjust="spacingAndGlyphs"  >A-A</text>
<line x1="417.38" y1="93.67" x2="416.2" y2="637.67" stroke="#d24d78" stroke-width="2.0" stroke-dasharray="15.5 6 1.8 6 1.8 5.2" stroke-dashoffset="6.3"/>
<polyline points="362.86,83.55 417.16,83.76 417.38,93.67" fill="none" stroke="#c9345e" stroke-width="2.4" stroke-dasharray="17 5 2 5 2 5 30"/>
<polyline points="362.09,651.96 416.39,652.18 416.2,637.67" fill="none" stroke="#c9345e" stroke-width="2.4" stroke-dasharray="17.5 5 2 5 2 5 30"/>
<text x="365.78" y="80.57" font-size="28.5" fill="#c9345e" font-weight="normal" text-anchor="start" textLength="47" lengthAdjust="spacingAndGlyphs"  >B-B</text>
<text x="366.77" y="680.6" font-size="28.5" fill="#c9345e" font-weight="normal" text-anchor="start" textLength="47.8" lengthAdjust="spacingAndGlyphs"  >B-B</text>
<line x1="685.14" y1="61.72" x2="683.92" y2="324.72" stroke="#d24d78" stroke-width="1.6" stroke-dasharray="6 3"/>
<polyline points="683.92,324.72 758.11,325.29 758.22,468.3" fill="none" stroke="#d24d78" stroke-width="1.6" stroke-dasharray="6 3"/>
<line x1="755.21" y1="598.58" x2="755.1" y2="691.98" stroke="#c9345e" stroke-width="1.8" />
<line x1="608.51" y1="599.15" x2="608.16" y2="644.65" stroke="#d24d78" stroke-width="1.7" stroke-dasharray="6 3"/>
<line x1="10.01" y1="10.34" x2="36.01" y2="10.44" stroke="#262626" stroke-width="1.4" />
<line x1="85.01" y1="10.41" x2="165.01" y2="10.63" stroke="#262626" stroke-width="1.4" />
<line x1="223.01" y1="10.77" x2="654.02" y2="11.28" stroke="#262626" stroke-width="1.4" />
<line x1="722.03" y1="10" x2="1109.04" y2="10.28" stroke="#262626" stroke-width="1.4" />
<line x1="1206.06" y1="8.92" x2="1273.06" y2="9.04" stroke="#262626" stroke-width="1.4" />
<line x1="1083.1" y1="2.78" x2="1081.83" y2="24.77" stroke="#262626" stroke-width="1.4" />
<line x1="94.23" y1="-4.82" x2="93.98" y2="28.18" stroke="#262626" stroke-width="1.4" />
<line x1="293.12" y1="-3.29" x2="292.88" y2="27.71" stroke="#262626" stroke-width="1.4" />
<line x1="1240.39" y1="3.98" x2="1240.3" y2="16.18" stroke="#262626" stroke-width="1.4" />
<line x1="16.55" y1="18.29" x2="32.67" y2="2.41" stroke="#262626" stroke-width="1.4" />
<line x1="86.05" y1="18.42" x2="102.17" y2="2.54" stroke="#262626" stroke-width="1.4" />
<line x1="284.95" y1="18.85" x2="301.07" y2="2.97" stroke="#262626" stroke-width="1.4" />
<line x1="1073.89" y1="17.31" x2="1090.01" y2="1.43" stroke="#262626" stroke-width="1.4" />
<line x1="1263" y1="17.06" x2="1279.12" y2="1.18" stroke="#262626" stroke-width="1.4" />
<text x="49.68" y="14.84" font-size="16" fill="#262626" font-weight="normal" text-anchor="start" textLength="21" lengthAdjust="spacingAndGlyphs"  >1,2</text>
<text x="179.68" y="15.44" font-size="16" fill="#262626" font-weight="normal" text-anchor="start" textLength="30" lengthAdjust="spacingAndGlyphs"  >3,31</text>
<text x="667.39" y="15.18" font-size="16" fill="#262626" font-weight="normal" text-anchor="start" textLength="40" lengthAdjust="spacingAndGlyphs"  >13,28</text>
<text x="1163.02" y="13.39" font-size="16" fill="#262626" font-weight="normal" text-anchor="start" textLength="30" lengthAdjust="spacingAndGlyphs"  >3,21</text>
<text x="1225" y="42.77" font-size="16" fill="#262626" font-weight="normal" text-anchor="start" textLength="31.1" lengthAdjust="spacingAndGlyphs"  >2,12</text>
<line x1="94.23" y1="-4.82" x2="91.41" y2="805.18" stroke="#262626" stroke-width="1.3" />
<line x1="1240.97" y1="59.59" x2="1240.51" y2="340.7" stroke="#262626" stroke-width="1.4" />
<line x1="1240.18" y1="383.39" x2="1239.92" y2="703.3" stroke="#262626" stroke-width="1.4" />
<line x1="1239.59" y1="746.6" x2="1239.37" y2="814" stroke="#262626" stroke-width="1.4" />
<line x1="1221.75" y1="100.44" x2="1256.26" y2="100.31" stroke="#262626" stroke-width="1.6" />
<line x1="1233.01" y1="92.83" x2="1248.4" y2="107.35" stroke="#262626" stroke-width="1.6" />
<line x1="1233.34" y1="623.45" x2="1255.34" y2="623.42" stroke="#262626" stroke-width="1.6" />
<line x1="1232.39" y1="616.44" x2="1247.28" y2="631.06" stroke="#262626" stroke-width="1.6" />
<text x="1229.71" y="366.71" font-size="16" fill="#262626" font-weight="normal" text-anchor="start" textLength="21.7" lengthAdjust="spacingAndGlyphs"  >8,9</text>
<text x="1229.52" y="729.62" font-size="15.5" fill="#262626" font-weight="normal" text-anchor="start" textLength="21.7" lengthAdjust="spacingAndGlyphs"  >3,4</text>
<line x1="287.43" y1="686.29" x2="287.17" y2="719.59" stroke="#262626" stroke-width="1.4" />
<line x1="279.23" y1="711.32" x2="295.36" y2="695.45" stroke="#262626" stroke-width="1.4" />
<line x1="287.3" y1="703.39" x2="647.7" y2="703.65" stroke="#262626" stroke-width="1.4" />
<line x1="716" y1="703.98" x2="1077.02" y2="703.45" stroke="#262626" stroke-width="1.4" />
<line x1="1077.15" y1="686.05" x2="1076.9" y2="718.75" stroke="#262626" stroke-width="1.4" />
<line x1="1068.96" y1="711.39" x2="1085.08" y2="695.51" stroke="#262626" stroke-width="1.4" />
<text x="662.66" y="708.87" font-size="16" fill="#262626" font-weight="normal" text-anchor="start" textLength="40" lengthAdjust="spacingAndGlyphs"  >13,28</text>
<line x1="24.73" y1="-5.35" x2="23.61" y2="804.66" stroke="#d9668a" stroke-width="2.2" stroke-dasharray="16.3 6 1.8 5.8 1.8 5.6" stroke-dashoffset="11.5"/>
<line x1="1270.89" y1="4.22" x2="1267.67" y2="814.22" stroke="#c9345e" stroke-width="2.2" stroke-dasharray="16.1 6 1.8 5.6 1.8 4.8" stroke-dashoffset="35"/>
<text x="55.07" y="224.29" font-size="13" fill="#4a63a8" font-weight="normal" text-anchor="start" textLength="117.6" lengthAdjust="spacingAndGlyphs" transform="rotate(90 55.07 224.29)" >passaggio pedonale</text>
<text x="29.37" y="406.3" font-size="16.5" fill="#c9345e" font-weight="normal" text-anchor="start" textLength="139.7" lengthAdjust="spacingAndGlyphs" transform="rotate(90 29.37 406.3)" >confine di proprietà</text>
<text x="1.26" y="433.38" font-size="16" fill="#c9345e" font-weight="bold" text-anchor="start" textLength="77.7" lengthAdjust="spacingAndGlyphs" transform="rotate(90 1.26 433.38)" >Mapp. 773</text>
<text x="1294.32" y="548.41" font-size="20" fill="#c9345e" font-weight="normal" text-anchor="start" textLength="229.6" lengthAdjust="spacingAndGlyphs" transform="rotate(-90 1294.32 548.41)" >Nuovo confine di proprietà</text>
<text x="1315.34" y="453.87" font-size="16.5" fill="#c9345e" font-weight="bold" text-anchor="start" textLength="80.3" lengthAdjust="spacingAndGlyphs" transform="rotate(-90 1315.34 453.87)" >Mapp. 775</text>
<text transform="translate(122.76 790.43) scale(0.76 1)" x="0" y="0" font-size="47.5" font-weight="bold" letter-spacing="2.36" fill="#ffffff" stroke="#4f4f4f" stroke-width="1.25" vector-effect="non-scaling-stroke" style="stroke-linejoin:round">Piano terra</text>
<text transform="translate(352.17 754.99) scale(0.76 1)" x="0" y="0" font-size="27.5" font-weight="bold" letter-spacing="1.45" fill="#ffffff" stroke="#4f4f4f" stroke-width="1.25" vector-effect="non-scaling-stroke" style="stroke-linejoin:round">Lotto C Ovest</text>
<text transform="translate(822.24 760.2) scale(0.76 1)" x="0" y="0" font-size="27.5" font-weight="bold" letter-spacing="1.44" fill="#ffffff" stroke="#4f4f4f" stroke-width="1.25" vector-effect="non-scaling-stroke" style="stroke-linejoin:round">Lotto C est</text>
<text transform="translate(995.19 786.83) scale(0.76 1)" x="0" y="0" font-size="37" font-weight="bold" letter-spacing="2.54" fill="#ffffff" stroke="#4f4f4f" stroke-width="1.25" vector-effect="non-scaling-stroke" style="stroke-linejoin:round">Erdgeschoss</text>
<text x="1324.04" y="753.65" font-size="28.5" fill="#262626" font-weight="normal" text-anchor="start" textLength="67.5" lengthAdjust="spacingAndGlyphs"  >scala</text>
<text x="1323.77" y="788.95" font-size="28" fill="#262626" font-weight="normal" text-anchor="start" textLength="69.9" lengthAdjust="spacingAndGlyphs"  >1:100</text>
<text x="424.65" y="813.74" font-size="20" fill="#c9345e" font-weight="bold" text-anchor="start" textLength="134" lengthAdjust="spacingAndGlyphs"  >nuovo confine</text>
<circle cx="1157.11" cy="626.36" r="22.8" fill="none" stroke="#2a8ac8" stroke-width="2.2" />
<line x1="1138.82" y1="612.62" x2="1176.41" y2="640.21" stroke="#2a8ac8" stroke-width="2.4" />
<line x1="1171.47" y1="605.47" x2="1142.76" y2="646.25" stroke="#2a8ac8" stroke-width="2.4" />
<line x1="1138.82" y1="612.62" x2="1166.15" y2="608.63" stroke="#6a9ab8" stroke-width="1.1" />
<line x1="1138.82" y1="612.62" x2="1143.38" y2="644.16" stroke="#6a9ab8" stroke-width="1.1" />
<line x1="1164.37" y1="619.42" x2="1176.29" y2="629.51" stroke="#8aa0b0" stroke-width="1.1" />
<line x1="1153.25" y1="634.33" x2="1166.17" y2="644.43" stroke="#8aa0b0" stroke-width="1.1" />
<polygon points="1182.61,600.99 1178.39,605.93 1172,604.76 1169.83,598.63 1174.04,593.68 1180.43,594.86" fill="none" stroke="#9dbaa4" stroke-width="2.6" />
<polygon points="1192.64,648.35 1188.1,653.68 1181.21,652.41 1178.87,645.82 1183.41,640.49 1190.3,641.76" fill="none" stroke="#9dbaa4" stroke-width="2.6" />
<polygon points="1142.9,655.1 1139.01,659.66 1133.11,658.58 1131.1,652.92 1134.99,648.36 1140.89,649.44" fill="none" stroke="#9dbaa4" stroke-width="2.6" />
<path d="M 1184.49 603.57 Q 1194.4 615.65 1191.24 635.63" fill="none" stroke="#2a8ac8" stroke-width="1.8" />
<polygon points="1188.27,631.6 1191.23,637.63 1193.78,631.14" fill="#fff" stroke="#2a8ac8" stroke-width="1.4" />
<path d="M 1178.1 654.53 Q 1163.04 662.41 1145.06 659.27" fill="none" stroke="#2a8ac8" stroke-width="1.8" />
<polygon points="1149.58,656.81 1144.06,659.26 1149.54,661.81" fill="#fff" stroke="#2a8ac8" stroke-width="1.4" />
<text x="1127.05" y="608.63" font-size="12.5" fill="#2a6a4a" font-weight="bold" text-anchor="middle"  transform="rotate(-35 1127.05 608.63)" >N</text>
</g>
</svg>
</body></html>
